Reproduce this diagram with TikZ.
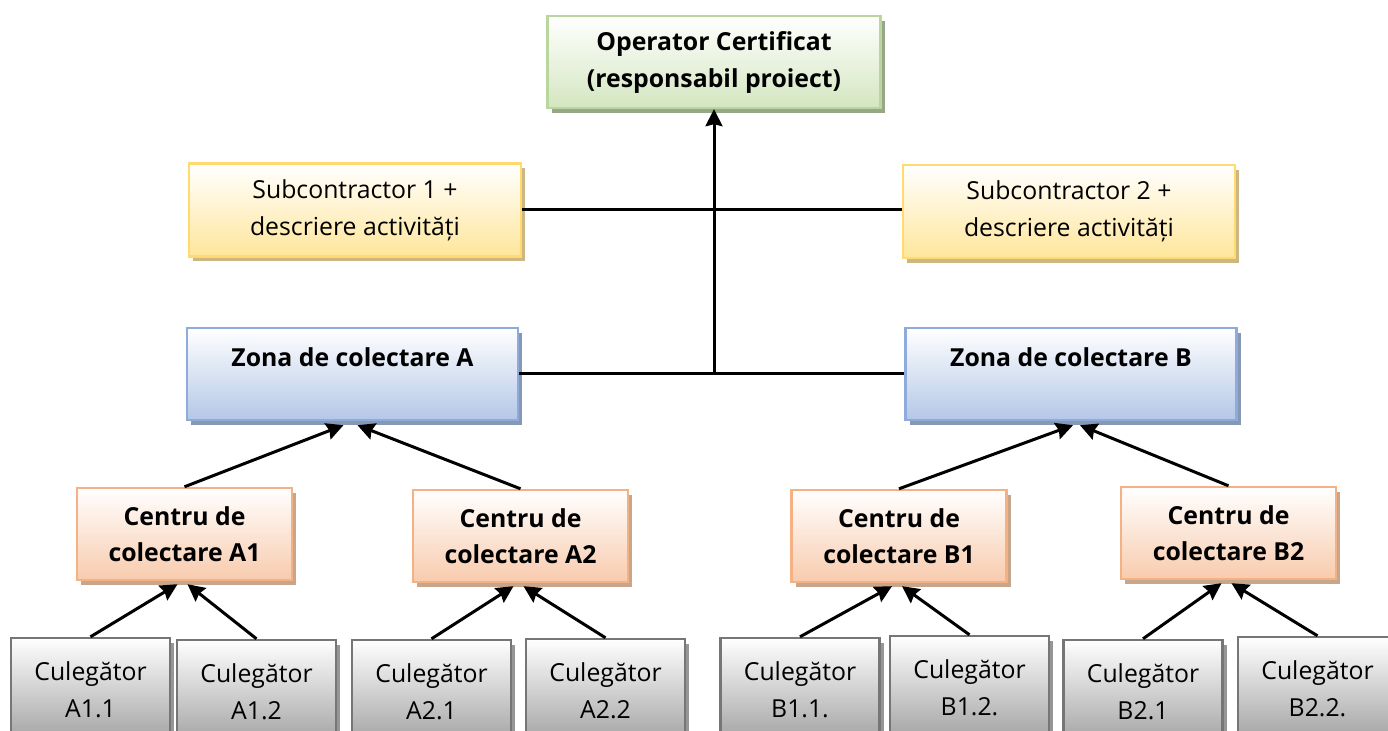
\documentclass[tikz,border=0pt]{standalone}
\usepackage{fontspec}
\setmainfont{Open Sans}
\usetikzlibrary{shadows}
\usetikzlibrary{positioning}
\usetikzlibrary{arrows.meta,shapes}
\definecolor{greenline}{RGB}{184,214,158}
\definecolor{greenfill}{RGB}{212,230,192}
\definecolor{greenshade}{RGB}{152,166,138}
\definecolor{yellowline}{RGB}{255,218,110}
\definecolor{yellowfill}{RGB}{255,230,155}
\definecolor{yellowshade}{RGB}{204,182,132}
\definecolor{blueline}{RGB}{143,170,220}
\definecolor{bluefill}{RGB}{180,199,231}
\definecolor{blueshade}{RGB}{134,152,178}
\definecolor{orangeline}{RGB}{244,177,131}
\definecolor{orangefill}{RGB}{248,203,173}
\definecolor{orangeshade}{RGB}{200,166,140}
\definecolor{greyline}{RGB}{118,118,118}
\definecolor{greyfill}{RGB}{162,162,162}
\definecolor{greyshade}{RGB}{150,150,150}
\tikzstyle{box}=[rectangle,draw,line width=1.2pt,align=center,inner sep=0pt,font=\fontsize{12.4}{18.5}\selectfont]
\tikzstyle{operatorbox}=[box,draw=greenline,top color=white,bottom color=greenfill,minimum width=166.5pt,minimum height=46pt,font=\fontsize{12.4}{18.5}\selectfont\bfseries,drop shadow={shadow xshift=2pt,shadow yshift=-2.5pt,fill=greenshade,opacity=1}]
\tikzstyle{subbox}=[box,draw=yellowline,top color=white,bottom color=yellowfill,minimum width=166pt,minimum height=46.5pt,drop shadow={shadow xshift=2pt,shadow yshift=-2.5pt,fill=yellowshade,opacity=1}]
\tikzstyle{zonebox}=[box,draw=blueline,top color=white,bottom color=bluefill,minimum width=165.5pt,minimum height=46pt,text depth=17pt,font=\fontsize{12.4}{18.5}\selectfont\bfseries,drop shadow={shadow xshift=2pt,shadow yshift=-2.5pt,fill=blueshade,opacity=1}]
\tikzstyle{centrebox}=[box,draw=orangeline,top color=white,bottom color=orangefill,minimum width=107.5pt,minimum height=46pt,font=\fontsize{12.4}{18}\selectfont\bfseries,drop shadow={shadow xshift=2pt,shadow yshift=-2.5pt,fill=orangeshade,opacity=1}]
\tikzstyle{pickbox}=[box,draw=greyline,top color=white,bottom color=greyfill,minimum width=79.5pt,minimum height=52pt,drop shadow={shadow xshift=2pt,shadow yshift=-2.5pt,fill=greyshade,opacity=1}]
\tikzstyle{edge}=[draw,line width=1.5pt,-{Stealth[length=8.5pt,width=8.5pt,inset=1pt]}]
\tikzstyle{joinline}=[draw,line width=1.5pt]

\begin{document}
\begin{tikzpicture}[x=0.5pt,y=-0.5pt]
    \useasboundingbox (0,0) rectangle (1388,731);
    \clip (0,0) rectangle (1388,731);

    \node[operatorbox] (op) at (714,62) {Operator Certificat\\(responsabil proiect)};
    \node[subbox] (sub1) at (355,210) {Subcontractor 1 +\\descriere activități};
    \node[subbox] (sub2) at (1069,211.5) {Subcontractor 2 +\\descriere activități};
    \node[zonebox] (zA) at (352.5,374) {Zona de colectare A};
    \node[zonebox] (zB) at (1071,374) {Zona de colectare B};

    \foreach \pos/\name/\lbl in {{(184.5,534)/cA1/A1}, {(520.5,536)/cA2/A2}, {(899,536)/cB1/B1}, {(1228.5,533)/cB2/B2}}
        \node[centrebox] (\name) at \pos {Centru de\\colectare \lbl};

    \foreach \pos/\name/\lbl in {{(90.5,690)/gA11/A1.1}, {(256.5,692)/gA12/A1.2}, {(431.5,692)/gA21/A2.1}, {(605.5,691)/gA22/A2.2},
        {(800,690)/gB11/B1.1.}, {(969.5,688)/gB12/B1.2.}, {(1143,692)/gB21/B2.1}, {(1317.5,689)/gB22/B2.2.}}
        \node[pickbox] (\name) at \pos {Culegător\\\lbl};

    % legaturi orizontale
    \path[joinline] (sub1.east) -- (sub1.east -| sub2.west);
    \path[joinline] (zA.east) -- (zB.west);
    \coordinate (hub) at (zA.east -| op.south);
    \path[edge] (hub) -- (op.south);

    \foreach \source/\dest/\dx in {cA1/zA/-4.5, cA2/zA/2.5, cB1/zB/1, cB2/zB/4.5}
        \path[edge] (\source.north) -- ([xshift=\dx pt,yshift=-2pt]\dest.south);

    \foreach \source/\dest/\dx in {gA11/cA1/-3.5, gA12/cA1/1.5, gA21/cA2/-3.5, gA22/cA2/1.5,
        gB11/cB1/-3.5, gB12/cB1/1.5, gB21/cB2/-3.5, gB22/cB2/1.5}
        \path[edge] (\source.north) -- ([xshift=\dx pt,yshift=-1.5pt]\dest.south);

\end{tikzpicture}
\end{document}
